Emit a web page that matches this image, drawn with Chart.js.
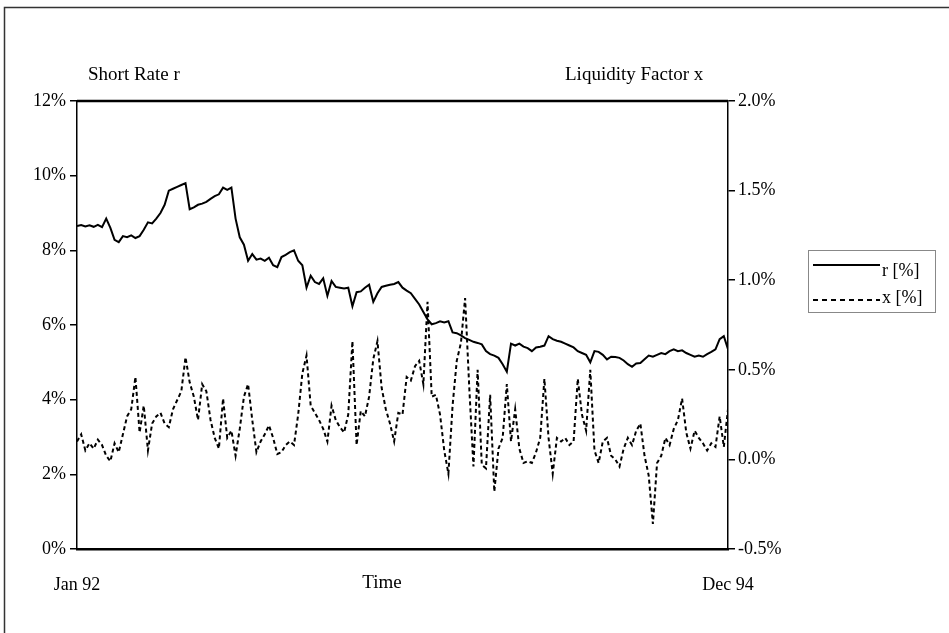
<!DOCTYPE html>
<html>
<head>
<meta charset="utf-8">
<script src="https://cdn.jsdelivr.net/npm/chart.js@4.4.1/dist/chart.umd.min.js"></script>
<style>
  html, body { margin: 0; padding: 0; background: #fff; }
  canvas { display: block; }
</style>
</head>
<body>
<canvas id="c" width="949" height="633"></canvas>
<script>
// Weekly observations, Jan 1992 (week 0) to Dec 1994 (week 156)
const timeLabels = ['Jan 92', 'Dec 94'];
const timeTitle = 'Time';

// Short rate r, in percent (left axis)
const shortRate = [
  8.65, 8.68, 8.64, 8.67, 8.63, 8.68, 8.62, 8.85, 8.60, 8.28,
  8.22, 8.38, 8.35, 8.40, 8.33, 8.38, 8.55, 8.75, 8.72, 8.85,
  9.00, 9.22, 9.60, 9.65, 9.70, 9.75, 9.80, 9.10, 9.15, 9.22,
  9.25, 9.30, 9.38, 9.45, 9.50, 9.68, 9.62, 9.68, 8.85, 8.35,
  8.15, 7.72, 7.90, 7.75, 7.78, 7.72, 7.80, 7.60, 7.55, 7.82,
  7.88, 7.95, 8.00, 7.72, 7.60, 7.00, 7.32, 7.15, 7.10, 7.25,
  6.78, 7.18, 7.02, 7.00, 6.98, 7.00, 6.50, 6.88, 6.90, 7.00,
  7.08, 6.62, 6.85, 7.02, 7.05, 7.08, 7.10, 7.15, 7.00, 6.92,
  6.85, 6.70, 6.55, 6.35, 6.15, 6.02, 6.05, 6.10, 6.07, 6.10,
  5.80, 5.78, 5.72, 5.65, 5.60, 5.55, 5.52, 5.48, 5.30, 5.22,
  5.18, 5.12, 4.95, 4.75, 5.50, 5.45, 5.50, 5.42, 5.38, 5.30,
  5.40, 5.42, 5.45, 5.70, 5.62, 5.58, 5.55, 5.50, 5.45, 5.40,
  5.30, 5.25, 5.20, 5.00, 5.30, 5.28, 5.20, 5.08, 5.15, 5.14,
  5.12, 5.05, 4.95, 4.88, 4.97, 4.98, 5.08, 5.18, 5.15, 5.20,
  5.25, 5.22, 5.30, 5.35, 5.30, 5.32, 5.25, 5.20, 5.15, 5.18,
  5.15, 5.22, 5.28, 5.35, 5.62, 5.70, 5.35
];

// Liquidity factor x, in percent (right axis)
const liquidity = [
  0.10, 0.14, 0.05, 0.09, 0.06, 0.11, 0.08, 0.02, -0.01, 0.09,
  0.04, 0.14, 0.24, 0.28, 0.46, 0.15, 0.30, 0.05, 0.20, 0.24,
  0.26, 0.20, 0.18, 0.28, 0.33, 0.38, 0.57, 0.43, 0.35, 0.22,
  0.42, 0.38, 0.22, 0.12, 0.06, 0.34, 0.12, 0.16, 0.02, 0.17,
  0.35, 0.42, 0.22, 0.04, 0.10, 0.14, 0.19, 0.12, 0.03, 0.04,
  0.08, 0.10, 0.08, 0.25, 0.48, 0.58, 0.30, 0.26, 0.22, 0.17,
  0.10, 0.30, 0.22, 0.18, 0.15, 0.25, 0.66, 0.08, 0.27, 0.24,
  0.35, 0.56, 0.66, 0.40, 0.28, 0.20, 0.10, 0.26, 0.25, 0.46,
  0.44, 0.52, 0.55, 0.42, 0.88, 0.35, 0.36, 0.25, 0.05, -0.08,
  0.30, 0.55, 0.65, 0.90, 0.40, -0.04, 0.50, -0.03, -0.05, 0.36,
  -0.18, 0.06, 0.12, 0.42, 0.10, 0.28, 0.06, -0.02, -0.01, -0.02,
  0.04, 0.12, 0.45, 0.12, -0.08, 0.12, 0.10, 0.12, 0.08, 0.10,
  0.45, 0.25, 0.16, 0.50, 0.05, -0.02, 0.10, 0.12, 0.02, 0.00,
  -0.04, 0.06, 0.12, 0.08, 0.16, 0.20, 0.02, -0.09, -0.36, -0.02,
  0.02, 0.12, 0.08, 0.17, 0.22, 0.34, 0.15, 0.06, 0.16, 0.12,
  0.09, 0.05, 0.09, 0.07, 0.24, 0.07, 0.28
];

const seriesNames = ['r [%]', 'x [%]'];
const leftTitle = 'Short Rate r';
const rightTitle = 'Liquidity Factor x';

const lastWeek = shortRate.length - 1;
const FONT = "'Liberation Serif', 'Times New Roman', serif";

// Frame, titles, top border and legend box
const decorations = {
  id: 'decorations',
  afterDraw(chart) {
    const ctx = chart.ctx;
    const a = chart.chartArea;
    ctx.save();
    // outer frame
    ctx.strokeStyle = '#333';
    ctx.lineWidth = 1.5;
    ctx.beginPath();
    ctx.moveTo(4.5, 640);
    ctx.lineTo(4.5, 7.5);
    ctx.lineTo(955, 7.5);
    ctx.stroke();
    // top border of the plot
    ctx.strokeStyle = '#000';
    ctx.lineWidth = 2.5;
    ctx.beginPath();
    ctx.moveTo(a.left, a.top);
    ctx.lineTo(a.right, a.top);
    ctx.stroke();
    // axis titles
    ctx.fillStyle = '#000';
    ctx.font = '19px ' + FONT;
    ctx.textBaseline = 'middle';
    ctx.textAlign = 'left';
    ctx.fillText(leftTitle, 88, 75);
    ctx.fillText(rightTitle, 565, 75);
    ctx.textAlign = 'center';
    ctx.fillText(timeTitle, 382, 583);
    // legend
    ctx.strokeStyle = '#888';
    ctx.lineWidth = 1;
    ctx.strokeRect(808.5, 250.5, 127, 62);
    ctx.strokeStyle = '#000';
    ctx.lineWidth = 2;
    ctx.beginPath();
    ctx.moveTo(813, 265);
    ctx.lineTo(880, 265);
    ctx.stroke();
    ctx.setLineDash([5, 4]);
    ctx.beginPath();
    ctx.moveTo(813, 300);
    ctx.lineTo(880, 300);
    ctx.stroke();
    ctx.setLineDash([]);
    ctx.textAlign = 'left';
    ctx.font = '18px ' + FONT;
    ctx.fillText(seriesNames[0], 882, 271);
    ctx.fillText(seriesNames[1], 882, 298);
    ctx.restore();
  }
};

new Chart(document.getElementById('c'), {
  type: 'line',
  data: {
    datasets: [
      {
        label: seriesNames[0],
        data: shortRate.map((v, i) => ({ x: i, y: v })),
        yAxisID: 'y',
        borderColor: '#000',
        borderWidth: 2,
        pointRadius: 0,
        tension: 0
      },
      {
        label: seriesNames[1],
        data: liquidity.map((v, i) => ({ x: i, y: v })),
        yAxisID: 'y2',
        borderColor: '#000',
        borderWidth: 2,
        borderDash: [4, 3],
        pointRadius: 0,
        tension: 0
      }
    ]
  },
  options: {
    responsive: false,
    animation: false,
    layout: { padding: { top: 101, left: 0, right: 0, bottom: 0 } },
    plugins: { legend: { display: false }, tooltip: { enabled: false } },
    scales: {
      x: {
        type: 'linear',
        min: 0,
        max: lastWeek,
        afterFit(s) { s.height = 84; },
        afterBuildTicks(s) { s.ticks = [{ value: 0 }, { value: lastWeek }]; },
        ticks: {
          autoSkip: false,
          maxRotation: 0,
          padding: 25,
          color: '#000',
          font: { family: FONT, size: 18 },
          callback: (v) => (v === 0 ? timeLabels[0] : timeLabels[1])
        },
        grid: { display: false, drawTicks: false },
        border: { display: true, color: '#000', width: 2.5 }
      },
      y: {
        position: 'left',
        min: 0,
        max: 12,
        afterFit(s) { s.width = 77; },
        ticks: {
          stepSize: 2,
          padding: 4,
          color: '#000',
          font: { family: FONT, size: 18 },
          callback: (v) => v + '%'
        },
        grid: { drawOnChartArea: false, tickLength: 7, color: '#000', lineWidth: 1.5 },
        border: { display: true, color: '#000', width: 1.5 }
      },
      y2: {
        position: 'right',
        min: -0.5,
        max: 2.0,
        afterFit(s) { s.width = 221; },
        ticks: {
          stepSize: 0.5,
          padding: 3,
          color: '#000',
          font: { family: FONT, size: 18 },
          callback: (v) => v.toFixed(1) + '%'
        },
        grid: { drawOnChartArea: false, tickLength: 7, color: '#000', lineWidth: 1.5 },
        border: { display: true, color: '#000', width: 1.5 }
      }
    }
  },
  plugins: [decorations]
});
</script>
</body>
</html>
